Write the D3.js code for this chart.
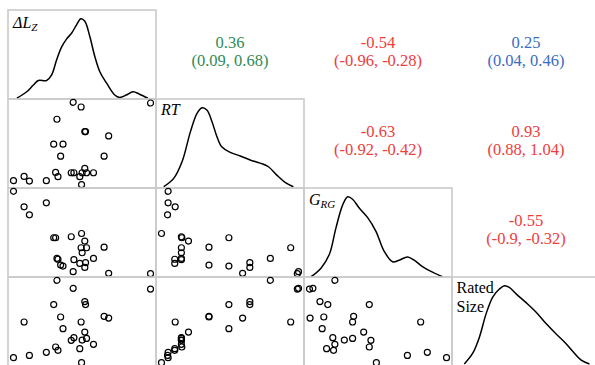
<!DOCTYPE html>
<html>
<head>
<meta charset="utf-8">
<script src="https://cdn.jsdelivr.net/npm/d3@7"></script>
<style>
body { margin: 0; background: #fff; }
svg { display: block; }
text { font-family: "Liberation Serif", "DejaVu Serif", serif; }
</style>
</head>
<body>
<script>
// scaled scores (0-100) per observation
var dLz = [3.6, 10.8, 14.4, 25.9, 30.9, 32.2, 33.1, 33.8, 35.6, 37.2, 42.8, 44.1, 44.6,
           48.6, 49.8, 49.5, 50.2, 52.0, 52.5, 52.0, 53.2, 57.9, 65.1, 68.2, 96.6];
var rt = [7.9, 12.7, 7.5, 7.9, 49.1, 17.2, 77.2, 12.4, 35.6, 49.1, 16.9, 96.3, 16.9,
          12.4, 3.4, 91.0, 16.9, 63.3, 63.3, 21.7, 16.9, 16.9, 35.6, 58.4, 95.5];
var gRG = [95.8, 78.3, 69.3, 82.8, 43.5, 43.5, 20.2, 19.3, 12.7, 11.6, 44.6, 5.3, 18.8,
           14.6, 48.3, 32.2, 26.6, 10.1, 15.4, 39.7, 32.2, 20.2, 32.9, 3.4, 3.0];
var ratedSize = [8.7, 48.7, 11.2, 14.6, 68.2, 20.6, 95.5, 16.9, 54.3, 41.2, 28.1, 86.5, 31.1,
                 18.8, 3.0, 48.7, 28.4, 71.6, 68.2, 37.4, 30.3, 23.6, 55.1, 53.1, 85.7];

// density curves (relative height)
var dLzDensX = [5.9, 12.6, 17.1, 20.5, 26.1, 29.5, 32.9, 36.3, 39.7, 43.0, 46.4, 49.3, 52.0,
                55.4, 58.8, 62.2, 66.7, 72.3, 75.7, 80.2, 84.7, 89.2, 94.8];
var dLzDensY = [0.01, 0.09, 0.175, 0.23, 0.23, 0.30, 0.49, 0.65, 0.75, 0.82, 0.925, 1.0, 0.97,
                0.78, 0.53, 0.34, 0.20, 0.05, 0.02, 0.05, 0.09, 0.06, 0.01];
var rtDensX = [4.9, 11.7, 17.4, 23.0, 27.5, 30.9, 34.3, 37.6, 41.0, 44.4, 50.0, 56.8, 63.5,
               70.3, 75.9, 81.6, 87.2, 92.8];
var rtDensY = [0.016, 0.12, 0.33, 0.70, 0.93, 1.0, 0.97, 0.83, 0.64, 0.51, 0.445, 0.40, 0.35,
               0.31, 0.265, 0.16, 0.07, 0.016];
var gRGDensX = [4.1, 10.8, 16.4, 20.9, 25.5, 28.9, 32.2, 36.7, 42.4, 48.0, 53.6, 59.3, 63.7,
                69.4, 73.9, 79.5, 86.3, 93.0];
var gRGDensY = [0.004, 0.11, 0.28, 0.61, 0.90, 1.0, 0.97, 0.86, 0.74, 0.57, 0.32, 0.19, 0.21,
                0.25, 0.21, 0.13, 0.06, 0.004];
var ratedDensX = [7.6, 13.3, 17.8, 22.3, 26.8, 31.3, 34.7, 38.0, 42.6, 49.3, 56.1, 62.8, 69.6,
                  75.2, 80.9, 86.5, 92.1];
var ratedDensY = [0.025, 0.16, 0.36, 0.65, 0.86, 0.96, 1.0, 0.98, 0.90, 0.79, 0.67, 0.53, 0.40,
                  0.30, 0.18, 0.074, 0.025];

// upper triangle: correlations, row/col pairs
var corrPairs = [[0, 1], [0, 2], [0, 3], [1, 2], [1, 3], [2, 3]];
var corrText = ["0.36", "-0.54", "0.25", "-0.63", "0.93", "-0.55"];
var ciText = ["(0.09, 0.68)", "(-0.96, -0.28)", "(0.04, 0.46)", "(-0.92, -0.42)", "(0.88, 1.04)", "(-0.9, -0.32)"];
var corrColor = ["#2e8b57", "#f03c3c", "#3b6cc0", "#f03c3c", "#f03c3c", "#f03c3c"];

var cols = [dLz, rt, gRG, ratedSize];
var dens = [[dLzDensX, dLzDensY], [rtDensX, rtDensY], [gRGDensX, gRGDensY], [ratedDensX, ratedDensY]];

var cw = 148, ch = 89, padL = 8, padT = 10;
var serif = "'Liberation Serif', 'DejaVu Serif', serif";

var svg = d3.select("body").append("svg")
    .attr("width", 595)
    .attr("height", 365);

function padded(arr){
    var e = d3.extent(arr);
    var p = (e[1] - e[0]) * 0.04;
    return [e[0] - p, e[1] + p];
}

var xs = cols.map(function(c){ return d3.scaleLinear().domain(padded(c)).range([0, cw]); });
var ys = cols.map(function(c){ return d3.scaleLinear().domain(padded(c)).range([ch, 0]); });
var dy = d3.scaleLinear().domain([0, 1.11]).range([ch, 0]);

var cells = [];
for (var i = 0; i < 4; i++) {
    for (var j = 0; j < 4; j++) {
        cells.push({r: i, c: j});
    }
}

var cell = svg.selectAll("g.cell")
    .data(cells)
    .enter()
    .append("g")
    .attr("class", "cell")
    .attr("transform", function(d){ return "translate(" + (padL + d.c * cw) + "," + (padT + d.r * ch) + ")"; });

// panel boxes
cell.filter(function(d){ return d.r >= d.c; })
    .append("rect")
    .attr("width", cw)
    .attr("height", ch)
    .attr("fill", "none")
    .attr("stroke", "#cacaca")
    .attr("stroke-width", 1.6);

// diagonal densities
var defs = svg.append("defs");
defs.append("clipPath").attr("id", "clipCell")
    .append("rect").attr("width", cw).attr("height", ch);

var line = d3.line().curve(d3.curveCatmullRom);

cell.filter(function(d){ return d.r == d.c; })
    .append("path")
    .attr("clip-path", "url(#clipCell)")
    .attr("fill", "none")
    .attr("stroke", "#000")
    .attr("stroke-width", 1.5)
    .attr("d", function(d){
        var dx = dens[d.r][0], dv = dens[d.r][1];
        var pts = dx.map(function(v, k){ return [xs[d.r](v), dy(dv[k])]; });
        return line(pts);
    });

// scatter panels
cell.filter(function(d){ return d.r > d.c; })
    .each(function(d){
        var pts = cols[d.c].map(function(v, k){ return [v, cols[d.r][k]]; });
        d3.select(this).selectAll("circle")
            .data(pts)
            .enter()
            .append("circle")
            .attr("cx", function(p){ return xs[d.c](p[0]); })
            .attr("cy", function(p){ return ys[d.r](p[1]); })
            .attr("r", 3)
            .attr("fill", "none")
            .attr("stroke", "#000")
            .attr("stroke-width", 1.2);
    });

// correlation text
corrPairs.forEach(function(p, k){
    var g = svg.append("g")
        .attr("transform", "translate(" + (padL + p[1] * cw + cw / 2) + "," + (padT + p[0] * ch + ch / 2) + ")")
        .attr("fill", corrColor[k])
        .attr("text-anchor", "middle")
        .attr("font-family", serif)
        .attr("font-size", 16.5);
    g.append("text").attr("font-family", serif).attr("y", -7).text(corrText[k]);
    g.append("text").attr("font-family", serif).attr("y", 11).text(ciText[k]);
});

// variable labels
var lab0 = svg.append("text").attr("x", padL + 5).attr("y", padT + 18)
    .attr("font-family", serif).attr("font-size", 16).attr("font-style", "italic");
lab0.append("tspan").text("\u0394L");
lab0.append("tspan").attr("dy", 3).attr("font-size", 11).text("Z");

svg.append("text").attr("x", padL + cw + 5).attr("y", padT + ch + 16)
    .attr("font-family", serif).attr("font-size", 16).attr("font-style", "italic").text("RT");

var lab2 = svg.append("text").attr("x", padL + 2 * cw + 5).attr("y", padT + 2 * ch + 17)
    .attr("font-family", serif).attr("font-size", 16).attr("font-style", "italic");
lab2.append("tspan").text("G");
lab2.append("tspan").attr("dy", 3).attr("font-size", 11).text("RG");

var lab3 = svg.append("text").attr("x", padL + 3 * cw + 4.5).attr("y", padT + 3 * ch + 16)
    .attr("font-family", serif).attr("font-size", 16);
lab3.append("tspan").text("Rated");
lab3.append("tspan").attr("x", padL + 3 * cw + 4.5).attr("dy", 19).text("Size");
</script>
</body>
</html>
